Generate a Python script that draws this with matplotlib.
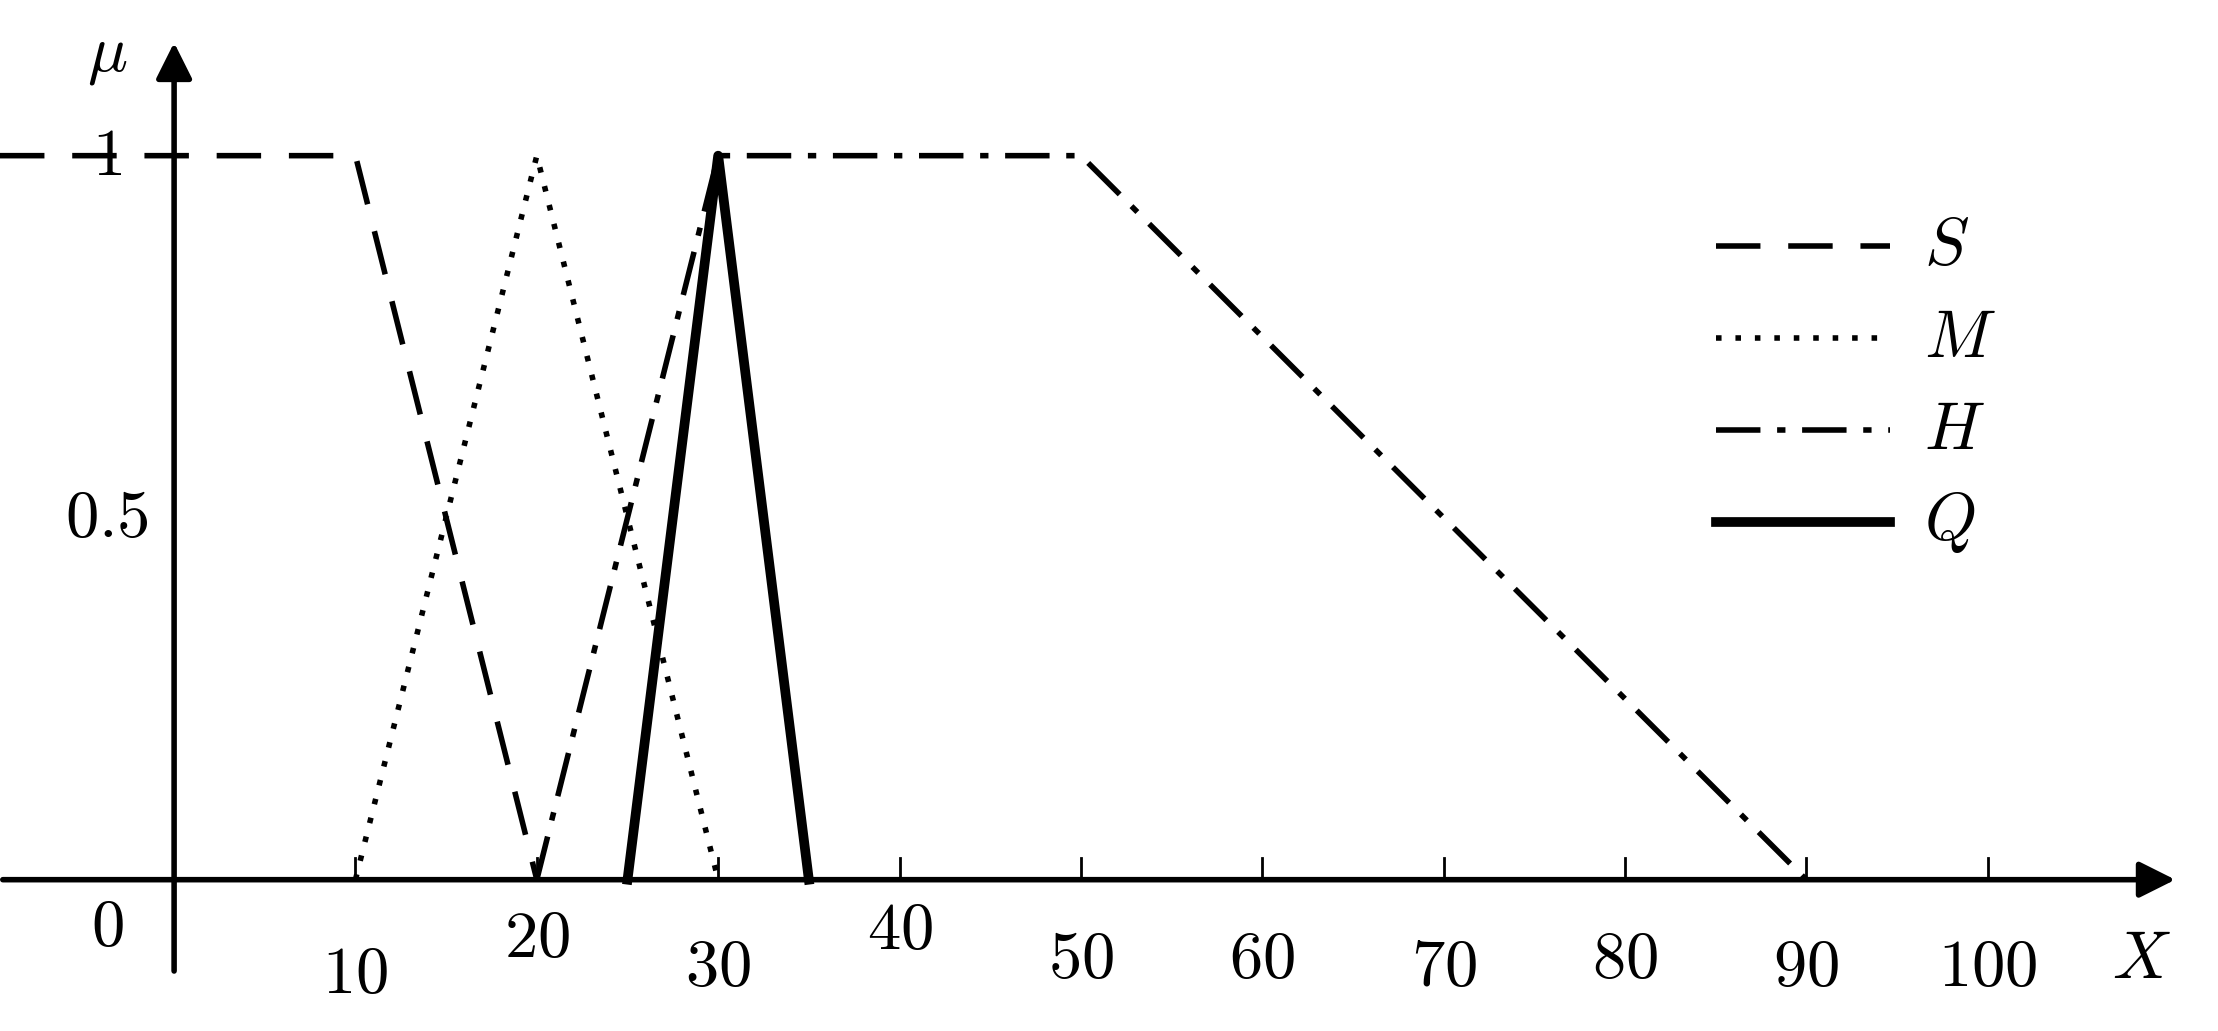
import matplotlib
matplotlib.use("Agg")
import matplotlib.pyplot as plt

plt.rcParams['mathtext.fontset'] = 'cm'

S_x = [-9.6, 10, 20]; S_y = [1, 1, 0]
M_x = [10, 20, 30]; M_y = [0, 1, 0]
H_x = [20, 30, 50, 90]; H_y = [0, 1, 1, 0]
Q_x = [25, 30, 35]; Q_y = [0, 1, 0]
xticks = [10, 20, 30, 40, 50, 60, 70, 80, 90, 100]
xtick_label_y = [-0.13, -0.08, -0.12, -0.07, -0.11, -0.11, -0.12, -0.11, -0.12, -0.12]

fig = plt.figure(figsize=(22.18, 10.31), dpi=100)
ax = fig.add_axes([0, 0, 1, 1])
ax.set_xlim(-9.6, 112.7)
ax.set_ylim(-0.209, 1.215)
ax.axis('off')

ax.annotate('', xy=(110.5, 0), xytext=(-9.6, 0),
            arrowprops=dict(arrowstyle='-|>', lw=4, color='black', mutation_scale=55))
ax.annotate('', xy=(0, 1.16), xytext=(0, -0.13),
            arrowprops=dict(arrowstyle='-|>', lw=4, color='black', mutation_scale=55))
for t in xticks:
    ax.plot([t, t], [0, 0.03], color='black', lw=2)
fs = 48
for t, ly in zip(xticks, xtick_label_y):
    ax.text(t, ly, f'${t}$', ha='center', va='center', fontsize=fs)
ax.text(-3.7, -0.065, '$0$', ha='center', va='center', fontsize=fs)
ax.text(-3.7, 0.5, '$0.5$', ha='center', va='center', fontsize=fs)
ax.text(-3.7, 1.0, '$1$', ha='center', va='center', fontsize=fs)
ax.text(-3.7, 1.14, r'$\mu$', ha='center', va='center', fontsize=fs)
ax.text(108.5, -0.11, '$X$', ha='center', va='center', fontsize=fs)

ax.plot(S_x, S_y, color='black', lw=4, dashes=(8, 5))
ax.plot(M_x, M_y, color='black', lw=4, dashes=(1, 2.5))
ax.plot(H_x, H_y, color='black', lw=4, dashes=(8, 3, 1.5, 3))
ax.plot(Q_x, Q_y, color='black', lw=7)

styles = [dict(dashes=(8, 5), lw=4), dict(dashes=(1, 2.5), lw=4),
          dict(dashes=(8, 3, 1.5, 3), lw=4), dict(lw=7)]
names = ['S', 'M', 'H', 'Q']
ys = [0.875, 0.748, 0.621, 0.494]
for st, n, y in zip(styles, names, ys):
    ax.plot([85, 94.6], [y, y], color='black', **st)
    ax.text(96.5, y, f'${n}$', ha='left', va='center', fontsize=fs)

fig.savefig('out.png', dpi=100)
